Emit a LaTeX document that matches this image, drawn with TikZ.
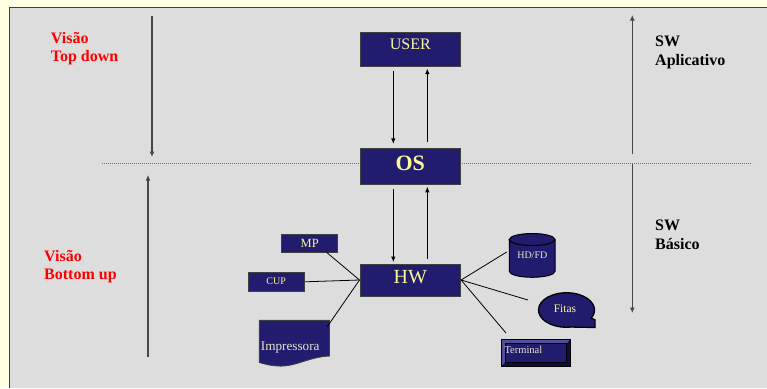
\documentclass[tikz,border=0pt]{standalone}
\usepackage{fontspec}
\setmainfont{Liberation Serif}
\usetikzlibrary{arrows.meta,calc}
\definecolor{navy}{RGB}{33,28,110}
\definecolor{navylight}{RGB}{84,78,152}
\definecolor{navydark}{RGB}{16,13,62}
\definecolor{cream}{RGB}{255,255,228}
\definecolor{panel}{RGB}{221,221,221}
\definecolor{txty}{RGB}{250,250,150}
\definecolor{txtw}{RGB}{230,230,200}
\definecolor{axis}{RGB}{70,70,70}
\tikzset{
  navybox/.style={draw=black!75, fill=navy, line width=0.9pt, inner sep=0pt},
  btext/.style={text=txty, inner sep=0pt, anchor=base},
  redlbl/.style={text=red, inner sep=0pt, anchor=base west, font=\fontsize{16}{19}\selectfont\bfseries},
  blklbl/.style={text=black, inner sep=0pt, anchor=base west, font=\fontsize{16}{19}\selectfont\bfseries},
  arr/.style={black, line width=0.8pt, -{Latex[length=5.5pt,width=4.5pt]}},
  bigarr/.style={axis, line width=1.3pt, -{Latex[length=5.5pt,width=5pt]}},
  conn/.style={black, line width=0.8pt},
}
\begin{document}
\begin{tikzpicture}[x=1pt,y=-1pt]
\useasboundingbox (0,0) rectangle (767,388);
\fill[cream] (0,0) rectangle (767,388);
\fill[panel] (9,7) rectangle (767,388);
\draw[black!75, line width=1pt] (9,388) -- (9,7) -- (767,7);

% side labels
\node[redlbl] (v1) at (50.7,43.3) {Visão};
\node[redlbl] (v2) at (50.7,61.7) {Top down};
\node[redlbl] (v3) at (44,261) {Visão};
\node[redlbl] (v4) at (44,279.3) {Bottom up};
\node[blklbl] (s1) at (655,46.7) {SW};
\node[blklbl] (s2) at (655,65) {Aplicativo};
\node[blklbl] (s3) at (655,230) {SW};
\node[blklbl] (s4) at (655,249) {Básico};

% axes
\coordinate (tdA) at (152,16);
\coordinate (tdB) at (152,157);
\coordinate (buA) at (148,357);
\coordinate (buB) at (148,175);
\coordinate (apA) at (632.3,154);
\coordinate (apB) at (632.3,15);
\coordinate (baA) at (632.3,164);
\coordinate (baB) at (632.3,313);
\coordinate (dL) at (101.7,163.3);
\coordinate (dR) at (751.7,163.3);
\draw[black!55, line width=0.8pt, dash pattern=on 0.8pt off 1.2pt] (dL) -- (dR);
\draw[bigarr] (tdA) -- (tdB);
\draw[bigarr] (buA) -- (buB);
\draw[bigarr] (apA) -- (apB);
\draw[bigarr] (baA) -- (baB);

% main boxes
\node[navybox, minimum width=100.7pt, minimum height=34pt] (user) at (410.3,49.7) {};
\node[btext, font=\fontsize{16}{16}\selectfont] (usert) at (410.3,49.3) {USER};
\node[navybox, minimum width=100.7pt, minimum height=36pt] (os) at (410.3,166.3) {};
\node[btext, font=\fontsize{22}{22}\selectfont\bfseries] (ost) at (410.3,170) {OS};
\node[navybox, minimum width=100.7pt, minimum height=32pt] (hw) at (410.3,280) {};
\node[btext, font=\fontsize{20}{20}\selectfont] (hwt) at (410.3,283.3) {HW};

\draw[arr] ($(user.south)+(-17,4)$) -- ($(os.north)+(-17,-4)$);
\draw[arr] ($(os.north)+(17,-6)$) -- ($(user.south)+(17,1.5)$);
\draw[arr] ($(os.south)+(-17,4)$) -- ($(hw.north)+(-17,-1.5)$);
\draw[arr] ($(hw.north)+(17,-5)$) -- ($(os.south)+(17,2)$);

% MP, CUP
\node[navybox, minimum width=56pt, minimum height=18pt] (mp) at (309.7,243) {};
\node[btext, font=\fontsize{12.5}{12.5}\selectfont] (mpt) at (309.7,247.3) {MP};
\node[navybox, minimum width=56.3pt, minimum height=18.3pt] (cup) at (276.2,281.8) {};
\node[btext, font=\fontsize{10}{10}\selectfont] (cupt) at (276.2,284) {CUP};

% Impressora (document)
\draw[draw=black!75, fill=navy, line width=0.9pt]
  (259.3,320.3) -- (329.5,320.3) -- (329.5,356)
  .. controls (308,357) and (296,367) .. (278,366)
  .. controls (269,365.5) and (263,363.5) .. (259.3,362.5) -- cycle;
\node[btext, anchor=base west, text=txtw, font=\fontsize{13.2}{13.2}\selectfont] (impt) at (260.7,350.7) {Impressora};
\coordinate (impc) at (327,327);

% HD/FD cylinder
\draw[draw=black, fill=navy, line width=1pt]
  (509.3,239.5) -- (509.3,271.3) arc[start angle=180, end angle=0, x radius=22.85, y radius=6]
  -- (555,239.5) arc[start angle=0, end angle=-180, x radius=22.85, y radius=6] -- cycle;
\draw[black, line width=1pt] (509.3,239.5) arc[start angle=180, end angle=0, x radius=22.85, y radius=6];
\node[btext, text=txtw, font=\fontsize{10}{10}\selectfont] (hdt) at (532.3,258.3) {HD/FD};
\coordinate (hdc) at (506.7,252);

% Fitas (tape)
\draw[draw=black, fill=navy, line width=1.3pt]
  (566.5,310) ++(80:28 and 17.3) arc[start angle=80, end angle=388, x radius=28, y radius=17.3]
  -- (595,319.8) -- (595,327.5) -- cycle;
\node[btext, font=\fontsize{11.5}{11.5}\selectfont] (fitt) at (565,312.7) {Fitas};
\coordinate (fitc) at (528,300);

% Terminal (bevel)
\fill[navy] (501,339.3) rectangle (570.7,366.7);
\fill[navylight] (501,339.3) -- (570.7,339.3) -- (566.7,343.3) -- (505,343.3) -- (505,362.7) -- (501,366.7) -- cycle;
\fill[navydark] (570.7,366.7) -- (501,366.7) -- (505,362.7) -- (566.7,362.7) -- (566.7,343.3) -- (570.7,339.3) -- cycle;
\draw[black, line width=0.8pt] (501,339.3) rectangle (570.7,366.7);
\draw[black, line width=0.8pt, fill=navy] (505,343.3) rectangle (566.7,362.7);
\node[inner sep=0pt, anchor=base west, text=txtw, font=\fontsize{10.5}{10.5}\selectfont] (termt) at (504.3,353.3) {Terminal};
\coordinate (termc) at (506,333);

% connectors
\draw[conn] ($(mp.south)+(17,0)$) -- (hw.west);
\draw[conn] (cup.east) -- (hw.west);
\draw[conn] (impc) -- (hw.west);
\draw[conn] (hw.east) -- (hdc);
\draw[conn] (hw.east) -- (fitc);
\draw[conn] (hw.east) -- (termc);
\end{tikzpicture}
\end{document}
